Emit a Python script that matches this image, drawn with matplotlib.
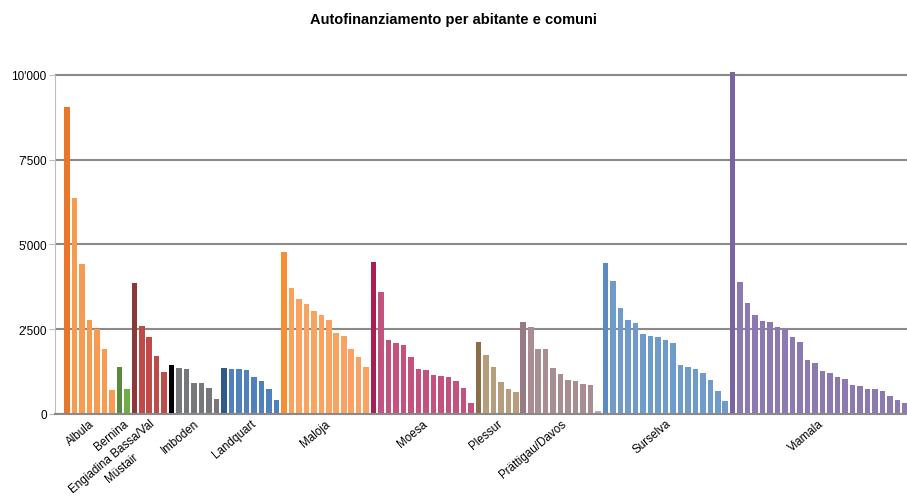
#!/usr/bin/env python3
"""Autofinanziamento per abitante e comuni, bar chart grouped by region."""

import matplotlib
matplotlib.use("Agg")
import matplotlib.pyplot as plt
from matplotlib.ticker import FuncFormatter, MultipleLocator

plt.rcParams["font.family"] = ["Liberation Sans", "DejaVu Sans"]

REGIONS = [
    "Albula", "Bernina", "Engiadina Bassa/Val\nMüstair", "Imboden", "Landquart",
    "Maloja", "Moesa", "Plessur", "Prättigau/Davos", "Surselva", "Viamala",
]

ALBULA = [9060, 6380, 4420, 2770, 2510, 1910, 700]
BERNINA = [1380, 730]
ENGIADINA = [3860, 2600, 2270, 1710, 1240]
IMBODEN = [1450, 1350, 1320, 915, 915, 770, 440]
LANDQUART = [1350, 1320, 1320, 1290, 1090, 970, 730, 405]
MALOJA = [4760, 3720, 3400, 3250, 3040, 2920, 2780, 2390, 2300, 1920, 1680, 1380]
MOESA = [4470, 3580, 2180, 2100, 2040, 1680, 1320, 1290, 1150, 1120, 1090, 970, 760, 320]
PLESSUR = [2130, 1740, 1380, 940, 730, 640]
PRATTIGAU = [2720, 2570, 1920, 1920, 1350, 1180, 1000, 970, 880, 850, 80]
SURSELVA = [4440, 3930, 3130, 2780, 2690, 2360, 2300, 2270, 2180, 2100, 1440,
            1380, 1320, 1210, 1000, 670, 375]
VIAMALA = [10100, 3880, 3260, 2900, 2730, 2700, 2550, 2500, 2250, 2130, 1600, 1510,
           1275, 1215, 1070, 1010, 860, 830, 740, 740, 680, 535, 415, 325]

SERIES = [ALBULA, BERNINA, ENGIADINA, IMBODEN, LANDQUART, MALOJA, MOESA,
          PLESSUR, PRATTIGAU, SURSELVA, VIAMALA]

# (first bar colour, colour of the rest)
COLORS = [
    ("#E8762B", "#F79A52"),
    ("#5B8A3C", "#70AD47"),
    ("#8C3836", "#BE4B48"),
    ("#000000", "#76787B"),
    ("#2F5A8A", "#4F81BD"),
    ("#F78F30", "#F9A363"),
    ("#A81F55", "#C4527E"),
    ("#8B6D48", "#B69E7C"),
    ("#977A82", "#A88D92"),
    ("#5B8BC4", "#6F9BCB"),
    ("#7A63A1", "#8C79B0"),
]
PRATTIGAU_LAST = "#C4A9AF"


def thousands(value, _pos):
    return f"{int(value):,}".replace(",", "'")


def main() -> None:
    fig = plt.figure(figsize=(9.07, 5.02), dpi=100)
    ax = fig.add_axes([55 / 907, 87.3 / 502, 1 - 55 / 907, (414.7 - 65.8) / 502])

    xs, heights, colors, centers = [], [], [], []
    pos = 0
    for name, values, (first, rest) in zip(REGIONS, SERIES, COLORS):
        start = pos
        for k, v in enumerate(values):
            xs.append(pos)
            heights.append(v)
            c = first if k == 0 else rest
            if name == "Prättigau/Davos" and k == len(values) - 1:
                c = PRATTIGAU_LAST
            colors.append(c)
            pos += 1
        centers.append((start + pos - 1) / 2)

    ax.set_axisbelow(True)
    ax.yaxis.grid(True, color="#8a8a8a", lw=1.5)
    ax.bar(xs, heights, width=0.74, color=colors, zorder=2)

    ax.set_xlim(-1.6, 112.3)
    ax.set_ylim(0, 10300)
    ax.yaxis.set_major_locator(MultipleLocator(2500))
    ax.yaxis.set_major_formatter(FuncFormatter(thousands))

    ax.set_xticks(centers)
    ax.set_xticklabels(REGIONS, rotation=40, ha="right", va="top", rotation_mode="anchor",
                       multialignment="center", fontsize=8.4)
    for label in ax.get_xticklabels():
        label.set_linespacing(1.35)
    ax.tick_params(axis="x", length=0, pad=2.5)
    ax.tick_params(axis="y", length=4, color="#bdbdbd", labelsize=8.5, pad=2)

    for side in ("top", "right"):
        ax.spines[side].set_visible(False)
    ax.spines["left"].set_color("#bdbdbd")
    ax.spines["left"].set_bounds(0, 10000)
    ax.spines["bottom"].set_color("#8a8a8a")
    ax.spines["bottom"].set_linewidth(1.5)

    fig.suptitle("Autofinanziamento per abitante e comuni", x=0.5, y=1 - 20 / 502,
                 va="center", fontsize=10.5, fontweight="bold")

    fig.savefig("out.png", dpi=100)


if __name__ == "__main__":
    main()
